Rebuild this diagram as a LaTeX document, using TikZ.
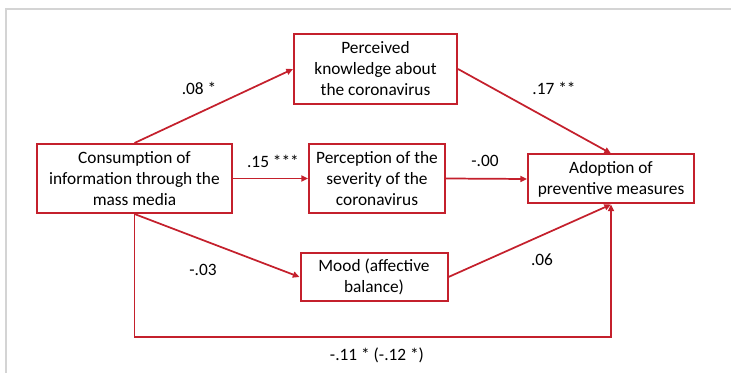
\documentclass[tikz,border=0pt]{standalone}
\usepackage{fontspec}
\setmainfont{Carlito}
\usetikzlibrary{arrows.meta}
\definecolor{boxred}{RGB}{196,32,44}
\definecolor{framegray}{RGB}{212,212,212}
\begin{document}
\begin{tikzpicture}[x=0.75pt,y=-0.75pt,
  box/.style={draw=boxred,line width=1.5pt,inner sep=0pt,align=center,font=\fontsize{13}{15.75}\selectfont},
  conn/.style={draw=boxred,line width=1.3pt},
  arr/.style={conn,-{Triangle[length=5pt,width=4.5pt]}},
  lab/.style={font=\fontsize{13}{15}\selectfont}]
\useasboundingbox (0,0) rectangle (731,373);
\draw[framegray,line width=1pt] (6,373) -- (6,9) -- (731,9);
\node[box,minimum width=122.25pt,minimum height=52.5pt] (know) at (375.5,69) {Perceived\\knowledge about\\the coronavirus};
\node[box,minimum width=146.25pt,minimum height=51.75pt] (cons) at (134.5,178.5) {Consumption of\\information through the\\mass media};
\node[box,minimum width=102pt,minimum height=51.75pt] (sev) at (377,178.5) {Perception of the\\severity of the\\coronavirus};
\node[box,minimum width=124.5pt,minimum height=36.75pt] (adopt) at (611,179) {Adoption of\\preventive measures};
\node[box,minimum width=110.25pt,minimum height=36pt] (mood) at (374,277) {Mood (affective\\balance)};
\coordinate (bot) at (0,337);
\draw[arr] (cons.north) -- (know.west);
\draw[arr] (know.east) -- (adopt.north);
\draw[arr] (cons.east) -- (sev.west);
\draw[arr] (sev.east) -- (adopt.west);
\draw[arr] (cons.south) -- (mood.west);
\draw[arr] (mood.east) -- (adopt.south);
\draw[arr] (cons.south) -- (cons.south |- bot) -| (adopt.south);
\node[lab] (l1) at (199,88) {.08 *};
\node[lab] (l2) at (554,88) {.17 **};
\node[lab] (l3) at (273,161) {.15 ***};
\node[lab] (l4) at (485,161) {-.00};
\node[lab] (l5) at (203,270) {-.03};
\node[lab] (l6) at (542,260) {.06};
\node[lab] (l7) at (377,355) {-.11 * (-.12 *)};
\end{tikzpicture}
\end{document}
